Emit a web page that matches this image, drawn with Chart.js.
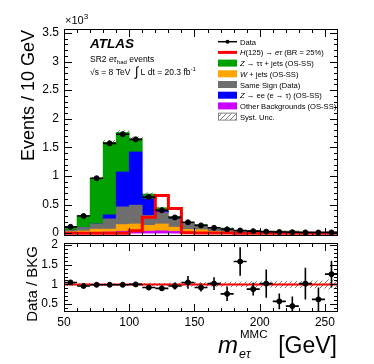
<!DOCTYPE html>
<html>
<head>
<meta charset="utf-8">
<script src="https://cdn.jsdelivr.net/npm/chart.js@4/dist/chart.umd.min.js"></script>
<style>
  body { margin: 0; background: #fff; width: 374px; height: 364px; overflow: hidden; position: relative; }
  #main { position: absolute; left: 0; top: 0; }
  #ratio { position: absolute; left: 0; top: 238px; }
</style>
</head>
<body>
<canvas id="main" width="374" height="241"></canvas>
<canvas id="ratio" width="374" height="126"></canvas>
<script>
// bin centres of m_etau^MMC [GeV], 10 GeV bins from 50 to 260
const binCenters = [55, 65, 75, 85, 95, 105, 115, 125, 135, 145, 155, 165, 175, 185, 195, 205, 215, 225, 235, 245, 255];
const binWidth = 10;

// events / 10 GeV, in units of 10^3
const dataEvents = [0.11, 0.30, 0.96, 1.57, 1.73, 1.64, 0.63, 0.40, 0.275, 0.19, 0.135, 0.093, 0.066, 0.047, 0.035, 0.026, 0.02, 0.016, 0.013, 0.011, 0.013];
const dataErr    = [0.01, 0.017, 0.03, 0.04, 0.042, 0.04, 0.025, 0.02, 0.017, 0.014, 0.012, 0.01, 0.008, 0.007, 0.006, 0.005, 0.0045, 0.004, 0.0035, 0.0033, 0.0035];
const otherBkg   = [0.005, 0.008, 0.01, 0.02, 0.03, 0.04, 0.035, 0.04, 0.03, 0.02, 0.01, 0.006, 0.004, 0.003, 0.002, 0.002, 0.001, 0.001, 0.001, 0.001, 0.001];
const wJets      = [0.02, 0.03, 0.06, 0.05, 0.12, 0.12, 0.10, 0.12, 0.075, 0.045, 0.05, 0.024, 0.016, 0.012, 0.008, 0.006, 0.005, 0.004, 0.003, 0.002, 0.002];
const sameSign   = [0.025, 0.06, 0.09, 0.18, 0.31, 0.33, 0.175, 0.20, 0.135, 0.105, 0.07, 0.05, 0.055, 0.013, 0.025, 0.013, 0.024, 0.025, 0.006, 0.012, 0.005];
const zee        = [0, 0, 0, 0.07, 0.61, 0.93, 0.29, 0.02, 0.01, 0, 0, 0, 0, 0, 0, 0, 0, 0, 0, 0, 0];
const ztautau    = [0.055, 0.21, 0.80, 1.27, 0.69, 0.23, 0.085, 0.064, 0.036, 0.011, 0.017, 0.011, 0.012, 0.002, 0.005, 0.004, 0.005, 0.006, 0.003, 0.003, 0.002];
const signal     = [0, 0, 0, 0, 0, 0.04, 0.28, 0.66, 0.43, 0.008, 0.004, 0.002, 0.001, 0, 0, 0, 0, 0, 0, 0, 0];
const systRel    = [0.03, 0.02, 0.02, 0.02, 0.02, 0.02, 0.03, 0.03, 0.04, 0.05, 0.05, 0.05, 0.06, 0.06, 0.07, 0.07, 0.08, 0.08, 0.08, 0.09, 0.12];

// Data / BKG
const ratioVals = [1.05, 0.96, 0.99, 0.99, 0.99, 1.0, 0.92, 0.90, 0.96, 1.05, 0.92, 1.02, 0.76, 1.58, 0.88, 1.02, 0.57, 0.45, 1.02, 0.62, 1.26];
const ratioErr  = [0.06, 0.03, 0.02, 0.02, 0.02, 0.02, 0.04, 0.05, 0.09, 0.16, 0.1, 0.16, 0.18, 0.36, 0.16, 0.36, 0.2, 0.24, 0.4, 0.3, 0.34];

const mainYTicks = [0, 0.5, 1, 1.5, 2, 2.5, 3, 3.5];
const ratioYTicks = [0.5, 1, 1.5, 2];
const xTicks = [50, 100, 150, 200, 250];

const legendLabels = [
  [{t: 'Data'}],
  [{t: 'H', i: 1}, {t: '(125) → '}, {t: 'eτ', i: 1}, {t: ' (BR = 25%)'}],
  [{t: 'Z', i: 1}, {t: ' → ττ + jets (OS-SS)'}],
  [{t: 'W', i: 1}, {t: ' + jets (OS-SS)'}],
  [{t: 'Same Sign (Data)'}],
  [{t: 'Z', i: 1}, {t: ' → ee (e → τ) (OS-SS)'}],
  [{t: 'Other Backgrounds (OS-SS)'}],
  [{t: 'Syst. Unc.'}]
];

const FONT = '"Liberation Sans", Arial, sans-serif';
const GREEN = '#00a000', BLUE = '#0000ff', ORANGE = '#ffa500', GREY = '#6e6e6e', PURPLE = '#cc00ff', RED = '#ff0000';

Chart.defaults.font.family = FONT;
Chart.defaults.color = '#000';
Chart.defaults.animation = false;

const totalBkg = binCenters.map((_, i) => otherBkg[i] + wJets[i] + sameSign[i] + zee[i] + ztautau[i]);
const xy = vals => binCenters.map((x, i) => ({x, y: vals[i]}));
const stepPoints = vals => binCenters.map((x, i) => ({x: x - binWidth / 2, y: vals[i]}))
  .concat([{x: binCenters[binCenters.length - 1] + binWidth / 2, y: vals[vals.length - 1]}]);

function hatchPattern(ctx) {
  const c = document.createElement('canvas');
  c.width = 5; c.height = 5;
  const g = c.getContext('2d');
  g.strokeStyle = '#555';
  g.lineWidth = 0.8;
  g.beginPath();
  g.moveTo(0, 5); g.lineTo(5, 0);
  g.moveTo(-1, 1); g.lineTo(1, -1);
  g.moveTo(4, 6); g.lineTo(6, 4);
  g.stroke();
  return ctx.createPattern(c, 'repeat');
}

function drawParts(ctx, x, y, parts, size) {
  let cx = x;
  for (const p of parts) {
    const s = p.size || size;
    ctx.font = (p.i ? 'italic ' : '') + (p.b ? 'bold ' : '') + s + 'px ' + FONT;
    ctx.fillText(p.t, cx, y + (p.dy || 0));
    cx += ctx.measureText(p.t).width;
  }
  return cx;
}

// frame + inside ticks on all four sides, placed with the chart scales
function drawBox(chart, yFrom, yTo, len) {
  const ctx = chart.ctx;
  const a = chart.chartArea;
  const xs = chart.scales.x, ys = chart.scales.y;
  const L = Math.round(a.left), R = Math.round(a.right), T = Math.round(a.top), B = Math.round(a.bottom);
  ctx.save();
  ctx.globalAlpha = 1;
  ctx.globalCompositeOperation = 'source-over';
  ctx.fillStyle = '#000000';
  ctx.fillRect(L, T, R - L, 1);
  ctx.fillRect(L, B - 1, R - L, 1);
  ctx.fillRect(L, T, 1, B - T);
  ctx.fillRect(R - 1, T, 1, B - T);
  for (let k = 0; k <= 21; k++) {
    const v = 50 + k * 10;
    const l = v % 50 === 0 ? len : len / 2;
    const px = Math.min(Math.round(xs.getPixelForValue(v)), R - 1);
    ctx.fillRect(px, B - l, 1, l);
    ctx.fillRect(px, T, 1, l);
  }
  for (let k = Math.round(yFrom * 10); k <= Math.round(yTo * 10); k++) {
    const l = k % 5 === 0 ? len : len / 2;
    const py = Math.min(Math.round(ys.getPixelForValue(k / 10)), B - 1);
    ctx.fillRect(L, py, l, 1);
    ctx.fillRect(R - l, py, l, 1);
  }
  ctx.restore();
}

// x (bin width) and y error bars for the data markers
function drawErrors(chart, dsIndex, values, errors) {
  const meta = chart.getDatasetMeta(dsIndex);
  const xs = chart.scales.x, ys = chart.scales[meta.yAxisID];
  const ctx = chart.ctx, a = chart.chartArea;
  ctx.save();
  ctx.beginPath();
  ctx.rect(a.left, a.top, a.right - a.left, a.bottom - a.top);
  ctx.clip();
  ctx.strokeStyle = '#000';
  ctx.lineWidth = 1.6;
  ctx.beginPath();
  values.forEach((v, i) => {
    const c = binCenters[i];
    const py = ys.getPixelForValue(v);
    ctx.moveTo(xs.getPixelForValue(c - binWidth / 2), py);
    ctx.lineTo(xs.getPixelForValue(c + binWidth / 2), py);
    const px = xs.getPixelForValue(c);
    ctx.moveTo(px, ys.getPixelForValue(v - errors[i]));
    ctx.lineTo(px, ys.getPixelForValue(v + errors[i]));
  });
  ctx.stroke();
  ctx.restore();
}

function drawMainText(chart) {
  const ctx = chart.ctx;
  ctx.save();
  ctx.fillStyle = '#000';
  ctx.textBaseline = 'alphabetic';

  ctx.save();
  ctx.translate(34, 30);
  ctx.rotate(-Math.PI / 2);
  ctx.textAlign = 'right';
  ctx.font = '18px ' + FONT;
  ctx.fillText('Events / 10 GeV', 0, 0);
  ctx.restore();

  ctx.textAlign = 'left';
  drawParts(ctx, 65, 24, [{t: '×10'}, {t: '3', size: 8, dy: -5}], 11);

  drawParts(ctx, 90, 48, [{t: 'ATLAS', i: 1, b: 1}], 13.5);
  drawParts(ctx, 90, 62, [{t: 'SR2 '}, {t: 'eτ', i: 1}, {t: 'had', size: 6, dy: 2}, {t: ' events'}], 8.5);
  let cx = drawParts(ctx, 90, 75, [{t: '√s = 8 TeV  '}], 8.5);
  cx = drawParts(ctx, cx, 76, [{t: '∫'}], 13);
  drawParts(ctx, cx + 2, 75, [{t: 'L dt = 20.3 fb'}, {t: '-1', size: 6, dy: -4}], 8.5);

  const sym = ['data', 'sig', GREEN, ORANGE, GREY, BLUE, PURPLE, 'syst'];
  legendLabels.forEach((parts, i) => {
    const y = 41.7 + i * 10.7;
    const s = sym[i];
    if (s === 'data') {
      ctx.strokeStyle = '#000'; ctx.lineWidth = 1.5;
      ctx.beginPath(); ctx.moveTo(218, y); ctx.lineTo(237, y); ctx.stroke();
      ctx.beginPath(); ctx.arc(227.5, y, 2, 0, Math.PI * 2); ctx.fill();
    } else if (s === 'sig') {
      ctx.strokeStyle = RED; ctx.lineWidth = 3;
      ctx.beginPath(); ctx.moveTo(218, y); ctx.lineTo(237, y); ctx.stroke();
    } else if (s === 'syst') {
      ctx.fillStyle = hatchPattern(ctx);
      ctx.fillRect(218, y - 3.5, 19, 7);
      ctx.strokeStyle = '#888'; ctx.lineWidth = 1;
      ctx.strokeRect(218.5, y - 3.5, 18, 7);
    } else {
      ctx.fillStyle = s;
      ctx.fillRect(218, y - 3.5, 19, 7);
    }
    ctx.fillStyle = '#000';
    drawParts(ctx, 240, y + 3, parts, 7.6);
  });
  ctx.restore();
}

function drawRatioText(chart) {
  const ctx = chart.ctx;
  ctx.save();
  ctx.fillStyle = '#000';
  ctx.save();
  ctx.translate(37, 8);
  ctx.rotate(-Math.PI / 2);
  ctx.textAlign = 'right';
  ctx.font = '15px ' + FONT;
  ctx.fillText('Data / BKG', 0, 0);
  ctx.restore();

  ctx.textAlign = 'left';
  drawParts(ctx, 218, 115, [{t: 'm', i: 1}], 24);
  drawParts(ctx, 240, 100, [{t: 'MMC'}], 11.5);
  drawParts(ctx, 239, 120, [{t: 'eτ', i: 1}], 12.5);
  ctx.textAlign = 'right';
  ctx.font = '23px ' + FONT;
  ctx.fillText('[GeV]', 337, 115);
  ctx.restore();
}

const noPad = s => { s.paddingTop = 0; s.paddingBottom = 0; s.paddingLeft = 0; s.paddingRight = 0; };
const barOpts = {barPercentage: 1, categoryPercentage: 1, borderWidth: 0};

const mainCanvas = document.getElementById('main');
new Chart(mainCanvas, {
  data: {
    datasets: [
      {type: 'bar', data: xy(otherBkg), backgroundColor: PURPLE, order: 5, ...barOpts},
      {type: 'bar', data: xy(wJets), backgroundColor: ORANGE, order: 5, ...barOpts},
      {type: 'bar', data: xy(sameSign), backgroundColor: GREY, order: 5, ...barOpts},
      {type: 'bar', data: xy(zee), backgroundColor: BLUE, order: 5, ...barOpts},
      {type: 'bar', data: xy(ztautau), backgroundColor: GREEN, order: 5, ...barOpts},
      {type: 'bar', yAxisID: 'y2', grouped: false, order: 3, ...barOpts,
        data: binCenters.map((x, i) => ({x, y: [totalBkg[i] * (1 - systRel[i]), totalBkg[i] * (1 + systRel[i])]})),
        backgroundColor: hatchPattern(mainCanvas.getContext('2d'))},
      {type: 'line', yAxisID: 'y2', order: 2, data: stepPoints(signal), stepped: true,
        borderColor: RED, borderWidth: 3, pointRadius: 0, fill: false},
      {type: 'scatter', yAxisID: 'y2', order: 1, data: xy(dataEvents),
        pointRadius: 2.5, backgroundColor: '#000', borderColor: '#000'}
    ]
  },
  options: {
    responsive: false,
    layout: {padding: {top: 29, right: 36, left: 0, bottom: 0}},
    plugins: {legend: {display: false}, tooltip: {enabled: false}},
    scales: {
      x: {type: 'linear', min: 50, max: 260, stacked: true, offset: false,
        grid: {display: false, drawTicks: false}, border: {display: false}, ticks: {display: false},
        afterBuildTicks: s => { s.ticks = xTicks.map(v => ({value: v})); },
        afterFit: s => { s.height = 2; noPad(s); }},
      y: {type: 'linear', min: -0.05, max: 3.57, stacked: true,
        grid: {display: false, drawTicks: false}, border: {display: false},
        ticks: {padding: 5, font: {size: 12}, callback: v => String(v)},
        afterBuildTicks: s => { s.ticks = mainYTicks.map(v => ({value: v})); },
        afterFit: s => { s.width = 64; noPad(s); }},
      y2: {type: 'linear', display: false, min: -0.05, max: 3.57}
    }
  },
  plugins: [{
    id: 'mainDecor',
    afterDatasetsDraw(chart) { drawErrors(chart, 7, dataEvents, dataErr); },
    afterDraw(chart) { drawMainText(chart); drawBox(chart, 0, 3.5, 8); }
  }]
});

const ratioCanvas = document.getElementById('ratio');
new Chart(ratioCanvas, {
  data: {
    datasets: [
      {type: 'bar', order: 3, grouped: false, ...barOpts,
        data: binCenters.map((x, i) => ({x, y: [1 - systRel[i], 1 + systRel[i]]})),
        backgroundColor: hatchPattern(ratioCanvas.getContext('2d'))},
      {type: 'line', order: 2, data: [{x: 50, y: 1}, {x: 260, y: 1}],
        borderColor: RED, borderWidth: 2, pointRadius: 0, fill: false},
      {type: 'scatter', order: 1, data: xy(ratioVals),
        pointRadius: 2.5, backgroundColor: '#000', borderColor: '#000'}
    ]
  },
  options: {
    responsive: false,
    layout: {padding: {top: 1, right: 36, left: 0, bottom: 0}},
    plugins: {legend: {display: false}, tooltip: {enabled: false}},
    scales: {
      x: {type: 'linear', min: 50, max: 260, offset: false,
        grid: {display: false, drawTicks: false}, border: {display: false},
        ticks: {padding: 3, font: {size: 12}, maxRotation: 0, callback: v => String(v)},
        afterBuildTicks: s => { s.ticks = xTicks.map(v => ({value: v})); },
        afterFit: s => { s.height = 52; noPad(s); }},
      y: {type: 'linear', min: 0.3, max: 2.05,
        grid: {display: false, drawTicks: false}, border: {display: false},
        ticks: {padding: 6, font: {size: 12}, callback: v => String(v)},
        afterBuildTicks: s => { s.ticks = ratioYTicks.map(v => ({value: v})); },
        afterFit: s => { s.width = 64; noPad(s); }}
    }
  },
  plugins: [{
    id: 'ratioDecor',
    afterDatasetsDraw(chart) { drawErrors(chart, 2, ratioVals, ratioErr); },
    afterDraw(chart) { drawRatioText(chart); drawBox(chart, 0.3, 2.0, 8); }
  }]
});
</script>
</body>
</html>
